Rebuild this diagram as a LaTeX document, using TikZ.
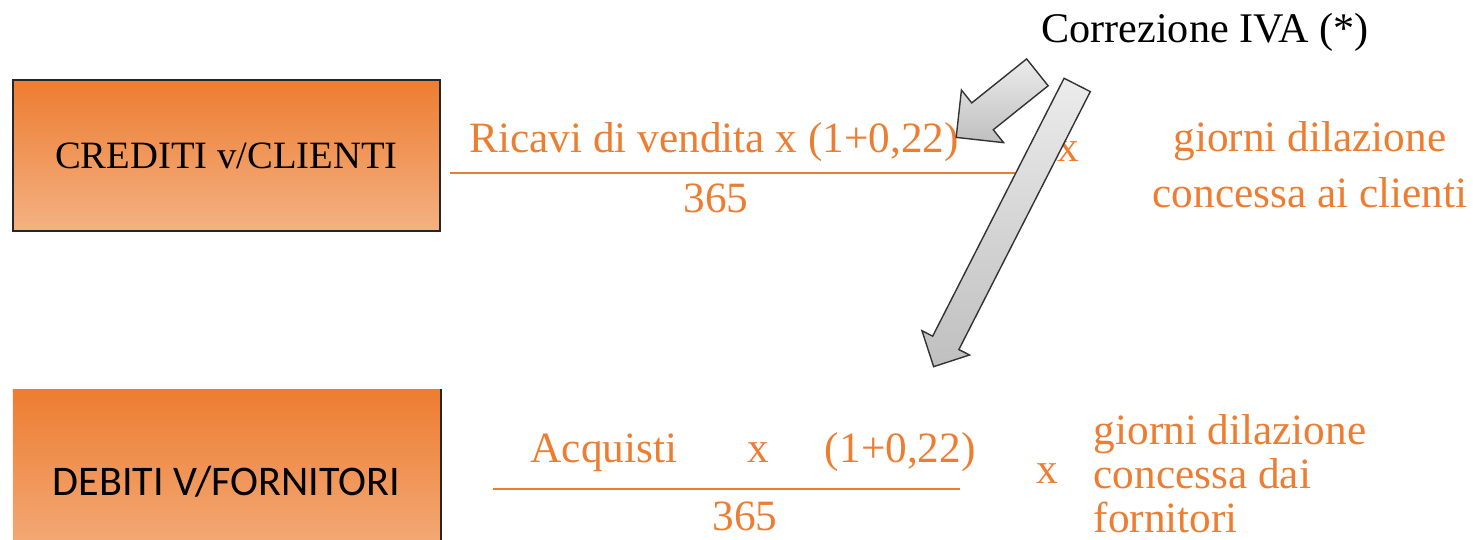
\documentclass[tikz,border=0pt]{standalone}
\usepackage{fontspec}
\setmainfont{Liberation Serif}
\newfontfamily\calibrifont{Carlito}
\usetikzlibrary{shapes.arrows}
\definecolor{ivaorange}{HTML}{ED7D31}
\definecolor{ivalight}{HTML}{F4B183}
\tikzset{
  contobox/.style={rectangle, top color=ivaorange, bottom color=ivalight, minimum width=4.27cm, inner sep=0pt},
  formula/.style={text=ivaorange, font=\fontsize{12.3}{16}\selectfont, inner sep=0pt},
  fracbar/.style={draw=ivaorange, line width=0.6pt},
  ivaarrow/.style={single arrow, draw=black!80, line width=0.4pt, top color=gray!15, bottom color=gray!50, single arrow tip angle=90, inner xsep=0pt}
}

\begin{document}
\begin{tikzpicture}[x=0.01cm, y=-0.01cm]
\useasboundingbox (0,0) rectangle (1473,540);

% conti
\node[contobox, draw=black!85, minimum height=1.51cm, font=\fontsize{11}{13}\selectfont] (crediti) at (226.5,155.5) {CREDITI v/CLIENTI};
\node[contobox, minimum height=1.84cm, font=\calibrifont\fontsize{12}{14}\selectfont] (debiti) at (226.5,482) {DEBITI V/FORNITORI};
\draw[black!85] (debiti.north east) -- (debiti.south east);

% crediti
\node[formula] (ricavi) at (714,142) {Ricavi di vendita x (1+0,22)};
\coordinate (barAl) at (450,173);
\coordinate (barAr) at (1015,173);
\draw[fracbar] (barAl) -- (barAr);
\node[formula] (giorniA) at (716,198) {365};
\node[formula] (perA) at (1068,152) {x};
\node[formula, align=center] (dilA) at (1310,165) {giorni dilazione\\concessa ai clienti};

% debiti
\node[formula, anchor=west] (acquisti) at (530,452) {Acquisti\hspace{0.7cm}x\hspace{0.56cm}(1+0,22)};
\coordinate (barBl) at (493,489);
\coordinate (barBr) at (960,489);
\draw[fracbar] (barBl) -- (barBr);
\node[formula] (giorniB) at (745,516) {365};
\node[formula] (perB) at (1047,474) {x};
\node[formula, align=left, anchor=west, font=\fontsize{12.3}{12.5}\selectfont] (dilB) at (1093,474) {giorni dilazione\\concessa dai\\fornitori};

% correzione IVA
\node[font=\fontsize{12}{14}\selectfont, inner sep=0pt] (iva) at (1205,32) {Correzione IVA (*)};
\node[ivaarrow, inner ysep=0.165cm, minimum height=1.04cm, single arrow head extend=0.165cm, rotate=218.7] (ivaArrowA) at (1003.5,99.5) {};
\node[ivaarrow, inner ysep=0.14cm, minimum height=3.16cm, single arrow head extend=0.12cm, rotate=243] (ivaArrowB) at (1008.75,219.25) {};
\end{tikzpicture}
\end{document}
